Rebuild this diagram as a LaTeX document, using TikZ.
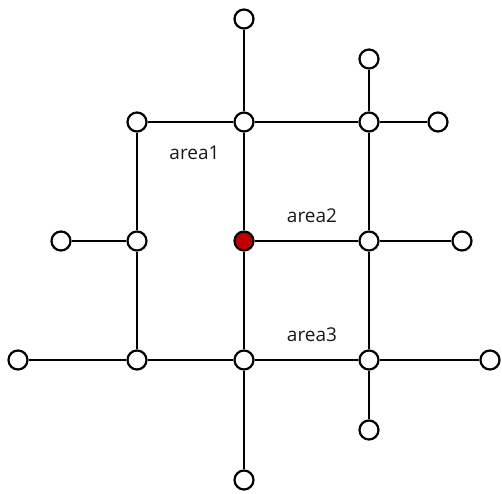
\documentclass[tikz,border=0pt]{standalone}
\usepackage{fontspec}
\setmainfont{Open Sans}
\definecolor{nodered}{HTML}{C00000}
\begin{document}
\begin{tikzpicture}[x=1pt,y=-1pt,
  vert/.style={circle,draw=black,line width=2.2pt,fill=white,minimum size=19pt,inner sep=0pt},
  redvert/.style={vert,fill=nodered},
  edge/.style={line width=2.2pt},
  lab/.style={font=\fontsize{19pt}{21pt}\selectfont,anchor=base,inner sep=0pt,text=black!90}]
\useasboundingbox (0,0) rectangle (502,493);
% nodes
\node[vert] (t) at (244,19) {};
\node[vert] (a1) at (137,122) {};
\node[vert] (a2) at (244,122) {};
\node[vert] (a3) at (369,122) {};
\node[vert] (a4) at (438,122) {};
\node[vert] (r3t) at (369,59) {};
\node[vert] (b0) at (61,241) {};
\node[vert] (b1) at (137,241) {};
\node[redvert] (b2) at (244,241) {};
\node[vert] (b3) at (369,241) {};
\node[vert] (b4) at (462,241) {};
\node[vert] (c0) at (18,360) {};
\node[vert] (c1) at (137,360) {};
\node[vert] (c2) at (244,360) {};
\node[vert] (c3) at (369,360) {};
\node[vert] (c4) at (490,360) {};
\node[vert] (d3) at (369,430) {};
\node[vert] (bt) at (244,480) {};
% edges
\draw[edge] (t) -- (a2) (a2) -- (b2) (b2) -- (c2) (c2) -- (bt);
\draw[edge] (a1) -- (b1) (b1) -- (c1);
\draw[edge] (r3t) -- (a3) (a3) -- (b3) (b3) -- (c3) (c3) -- (d3);
\draw[edge] (a1) -- (a2) (a2) -- (a3) (a3) -- (a4);
\draw[edge] (b0) -- (b1) (b2) -- (b3) (b3) -- (b4);
\draw[edge] (c0) -- (c1) (c1) -- (c2) (c2) -- (c3) (c3) -- (c4);
% labels
\node[lab] (l1) at (194.5,159) {area1};
\node[lab] (l2) at (312,222) {area2};
\node[lab] (l3) at (312,341) {area3};
\end{tikzpicture}
\end{document}
